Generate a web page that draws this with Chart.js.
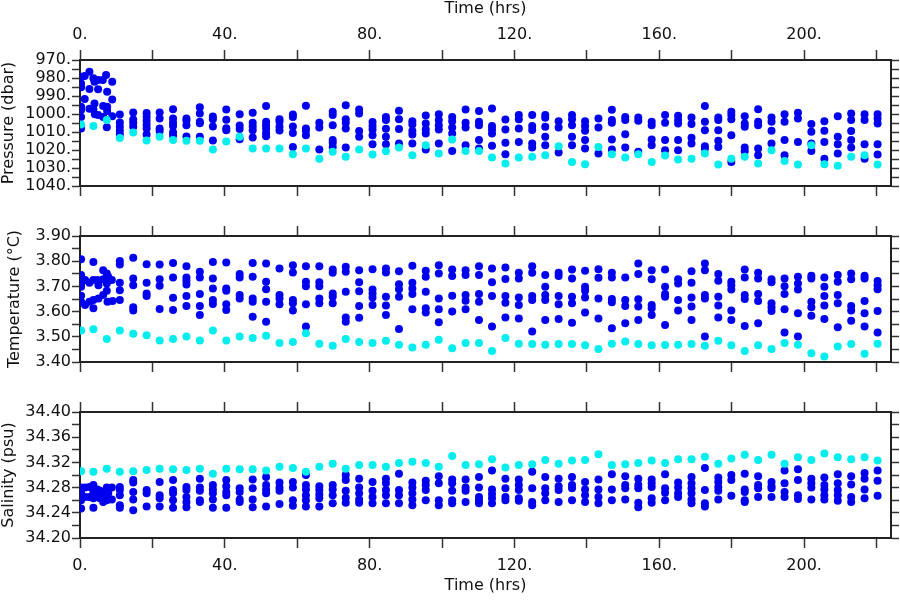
<!DOCTYPE html>
<html>
<head>
<meta charset="utf-8">
<title>CTD casts</title>
<script src="https://cdn.jsdelivr.net/npm/chart.js@4.4.1/dist/chart.umd.min.js"></script>
<style>
  body { margin: 0; background: #fff; }
  #wrap { position: relative; width: 900px; height: 600px; background: #fff; }
  canvas { position: absolute; left: 0; }
</style>
</head>
<body>
<div id="wrap">
  <canvas id="presChart" width="900" height="200" style="top:0px"></canvas>
  <canvas id="tempChart" width="900" height="180" style="top:200px"></canvas>
  <canvas id="salChart" width="900" height="220" style="top:380px"></canvas>
</div>
<script>
//! Cast times (hrs)
const castHours = [11.0, 14.7, 18.4, 22.0, 25.7, 29.4, 33.1, 36.7, 40.4, 44.1, 47.7, 51.4, 55.1, 58.8,
  62.4, 66.1, 69.8, 73.4, 77.1, 80.8, 84.5, 88.1, 91.8, 95.5, 99.1, 102.8, 106.5, 110.2, 113.8, 117.5,
  121.2, 124.9, 128.5, 132.2, 135.9, 139.5, 143.2, 146.9, 150.6, 154.2, 157.9, 161.6, 165.2, 168.9,
  172.6, 176.3, 179.9, 183.6, 187.3, 191.0, 194.6, 198.3, 202.0, 205.6, 209.3, 213.0, 216.7, 220.3];

//! Pressure (dbar), one list per cast; deepest sample separately
const presBlue = [
  [1000.3, 1004.7, 1007.1, 1009.3, 1011.4], [999.1, 1003.0, 1004.9, 1007.1],
  [999.5, 1001.5, 1003.8, 1006.0, 1008.0, 1011.4], [999.1, 1002.5, 1008.0, 1009.5],
  [997.3, 1002.5, 1004.9, 1006.7, 1010.1, 1011.9], [1002.5, 1003.8, 1006.2, 1012.5],
  [996.2, 999.7, 1004.3, 1005.1, 1012.7], [1001.4, 1002.9, 1006.9, 1014.7],
  [997.5, 1003.2, 1007.9, 1009.0], [1000.1, 1006.4, 1008.4, 1014.0],
  [999.3, 1004.9, 1006.9, 1009.0, 1013.1], [995.6, 1004.3, 1006.2, 1008.2, 1010.6, 1012.3],
  [1002.9, 1004.1, 1007.1, 1009.2], [1000.3, 1001.6, 1006.9, 1010.5, 1018.3],
  [995.4, 1008.0, 1009.3, 1011.8], [1004.9, 1007.5, 1019.7],
  [998.8, 1000.6, 1006.2, 1014.5, 1016.0, 1018.3], [995.1, 1002.9, 1004.9, 1008.0, 1018.6],
  [997.5, 999.7, 1009.5, 1012.7], [1004.5, 1006.7, 1008.6, 1011.8, 1016.8],
  [1001.6, 1003.4, 1008.2, 1012.7, 1016.8], [998.2, 1002.9, 1008.4, 1016.4],
  [1004.0, 1005.8, 1009.5, 1011.4, 1016.4], [1000.8, 1005.3, 1008.6, 1010.8, 1019.7],
  [1000.1, 1003.4, 1006.2, 1008.6, 1016.4], [1001.6, 1004.0, 1007.5, 1010.8, 1020.5],
  [997.5, 1004.9, 1007.5, 1017.3], [998.4, 1004.3, 1006.2, 1014.5, 1019.2],
  [996.9, 1006.6, 1008.6, 1010.8, 1017.7], [1003.0, 1008.6, 1016.0, 1022.3],
  [1000.6, 1002.9, 1008.0, 1015.5], [1000.6, 1006.7, 1008.9, 1016.4, 1018.6],
  [1000.6, 1002.1, 1007.1, 1012.7, 1017.3], [1004.0, 1007.5, 1021.4],
  [1000.6, 1002.9, 1006.2, 1012.7, 1017.3], [1004.0, 1006.7, 1009.3, 1014.5, 1019.2],
  [1002.5, 1007.5, 1022.0], [997.7, 1003.4, 1004.9, 1014.2, 1019.7],
  [1001.6, 1003.4, 1011.2, 1018.6], [1001.9, 1003.8, 1021.0],
  [1004.3, 1006.2, 1014.2, 1017.3], [1000.6, 1004.9, 1014.5, 1020.1],
  [1001.0, 1003.4, 1005.3, 1014.5, 1020.1], [1001.9, 1005.6, 1013.2, 1016.4],
  [995.6, 1004.3, 1009.0, 1017.9, 1019.2], [1001.9, 1003.4, 1009.0, 1014.9, 1018.3],
  [998.8, 1000.6, 1002.9, 1011.8, 1026.6], [1001.2, 1005.3, 1007.1, 1018.6, 1020.7],
  [997.3, 1004.3, 1006.2, 1019.2, 1022.9], [1001.9, 1004.3, 1009.3, 1016.4],
  [1000.1, 1004.3, 1014.5, 1022.9], [999.3, 1002.5, 1015.5],
  [1005.6, 1009.9, 1016.4, 1020.5], [1004.0, 1009.3, 1015.5, 1024.8],
  [1001.2, 1012.7, 1016.8, 1022.0], [999.7, 1003.4, 1009.5, 1014.5, 1018.6],
  [1000.1, 1003.4, 1016.8, 1024.8], [1000.1, 1002.5, 1005.3, 1016.8, 1022.5]
];
const presCyan = [1013.4, 1010.3, 1014.7, 1012.7, 1014.4, 1014.9, 1014.9, 1019.7, 1015.3, 1012.7,
  1019.2, 1019.2, 1019.2, 1022.3, 1019.2, 1024.8, 1021.0, 1023.8, 1019.7, 1022.5, 1020.7, 1018.6,
  1022.9, 1017.3, 1022.0, 1014.2, 1020.5, 1020.5, 1024.2, 1027.5, 1024.2, 1023.8, 1022.9, 1017.9,
  1026.6, 1027.9, 1018.3, 1022.3, 1024.2, 1022.3, 1026.6, 1023.1, 1025.3, 1024.8, 1022.0, 1028.1,
  1024.8, 1023.8, 1027.5, 1020.1, 1026.1, 1028.1, 1017.3, 1027.9, 1028.8, 1023.8, 1022.9, 1028.1];

//! Temperature (degC)
const tempBlue = [
  [3.801, 3.787, 3.714, 3.685, 3.646], [3.814, 3.731, 3.705, 3.617, 3.604],
  [3.788, 3.714, 3.672, 3.662], [3.787, 3.728, 3.703, 3.610],
  [3.793, 3.735, 3.655, 3.606], [3.780, 3.735, 3.722, 3.708, 3.662, 3.622],
  [3.758, 3.735, 3.670, 3.622, 3.587], [3.797, 3.731, 3.692, 3.646, 3.630],
  [3.795, 3.692, 3.683, 3.629, 3.606], [3.749, 3.735, 3.666, 3.652],
  [3.793, 3.738, 3.652, 3.639, 3.580], [3.791, 3.718, 3.689, 3.639, 3.560],
  [3.771, 3.666, 3.652, 3.629], [3.784, 3.755, 3.646, 3.633, 3.604],
  [3.780, 3.718, 3.701, 3.629, 3.541], [3.780, 3.716, 3.701, 3.652, 3.633],
  [3.767, 3.754, 3.672, 3.659, 3.633], [3.778, 3.758, 3.679, 3.577, 3.560],
  [3.764, 3.716, 3.681, 3.622, 3.576], [3.768, 3.688, 3.672, 3.656, 3.626],
  [3.771, 3.755, 3.659, 3.624, 3.587], [3.760, 3.709, 3.689, 3.659, 3.531],
  [3.782, 3.714, 3.692, 3.670, 3.609], [3.762, 3.738, 3.679, 3.613, 3.596],
  [3.784, 3.751, 3.652, 3.609, 3.558], [3.767, 3.741, 3.663, 3.600],
  [3.764, 3.745, 3.666, 3.643, 3.609], [3.780, 3.745, 3.670, 3.639, 3.567],
  [3.771, 3.716, 3.662, 3.541], [3.775, 3.729, 3.662, 3.635, 3.577],
  [3.754, 3.731, 3.656, 3.626, 3.573], [3.780, 3.754, 3.662, 3.646, 3.521],
  [3.745, 3.699, 3.666, 3.646, 3.567], [3.754, 3.741, 3.662, 3.629, 3.571],
  [3.767, 3.731, 3.659, 3.633, 3.556], [3.762, 3.699, 3.683, 3.656, 3.596],
  [3.768, 3.734, 3.652, 3.573], [3.754, 3.735, 3.650, 3.637, 3.534],
  [3.735, 3.646, 3.622, 3.554], [3.791, 3.749, 3.649, 3.620, 3.567],
  [3.764, 3.728, 3.626, 3.613, 3.587], [3.767, 3.699, 3.670, 3.659, 3.547],
  [3.728, 3.712, 3.646, 3.604], [3.760, 3.714, 3.656, 3.620, 3.567],
  [3.791, 3.764, 3.666, 3.652, 3.501], [3.749, 3.722, 3.659, 3.624, 3.577],
  [3.718, 3.705, 3.688, 3.604, 3.567], [3.767, 3.735, 3.666, 3.650, 3.543],
  [3.754, 3.731, 3.670, 3.642, 3.554], [3.728, 3.716, 3.633, 3.617, 3.602],
  [3.731, 3.701, 3.670, 3.609, 3.517], [3.738, 3.712, 3.688, 3.593, 3.501],
  [3.742, 3.731, 3.639, 3.617, 3.584], [3.735, 3.699, 3.662, 3.624, 3.571],
  [3.745, 3.718, 3.666, 3.633, 3.538], [3.751, 3.728, 3.622, 3.604, 3.564],
  [3.742, 3.731, 3.642, 3.593, 3.541], [3.721, 3.705, 3.689, 3.602, 3.517]
];
const tempCyan = [3.525, 3.512, 3.506, 3.485, 3.491, 3.501, 3.485, 3.525, 3.485, 3.501, 3.495,
  3.504, 3.475, 3.479, 3.514, 3.472, 3.464, 3.491, 3.479, 3.475, 3.484, 3.468, 3.458, 3.468, 3.488,
  3.455, 3.475, 3.475, 3.444, 3.495, 3.472, 3.471, 3.468, 3.471, 3.471, 3.466, 3.452, 3.472, 3.481,
  3.471, 3.466, 3.467, 3.468, 3.471, 3.464, 3.484, 3.466, 3.444, 3.466, 3.452, 3.475, 3.468, 3.435,
  3.422, 3.462, 3.471, 3.433, 3.472];

//! Salinity (psu)
const salBlue = [
  [34.281, 34.276, 34.268, 34.252, 34.248], [34.292, 34.288, 34.273, 34.261, 34.244],
  [34.276, 34.271, 34.250], [34.289, 34.268, 34.263, 34.250],
  [34.292, 34.276, 34.271, 34.260, 34.248], [34.281, 34.276, 34.265, 34.257, 34.249],
  [34.294, 34.280, 34.275, 34.260, 34.257], [34.284, 34.277, 34.271, 34.261, 34.248],
  [34.292, 34.282, 34.273, 34.268, 34.248], [34.279, 34.273, 34.261, 34.257],
  [34.293, 34.279, 34.261, 34.249], [34.297, 34.284, 34.277, 34.271, 34.250],
  [34.288, 34.280, 34.275, 34.254], [34.289, 34.280, 34.260, 34.251],
  [34.300, 34.284, 34.277, 34.268, 34.260, 34.250], [34.282, 34.276, 34.269, 34.263, 34.250],
  [34.284, 34.277, 34.268, 34.255], [34.300, 34.292, 34.275, 34.264, 34.256],
  [34.294, 34.280, 34.271, 34.261, 34.256], [34.289, 34.275, 34.265, 34.255],
  [34.294, 34.287, 34.276, 34.268, 34.255], [34.302, 34.276, 34.268, 34.255],
  [34.288, 34.280, 34.271, 34.261, 34.252], [34.291, 34.284, 34.276, 34.260],
  [34.298, 34.287, 34.260, 34.252], [34.293, 34.287, 34.275, 34.260, 34.255],
  [34.293, 34.280, 34.275, 34.257], [34.297, 34.280, 34.265, 34.260, 34.255],
  [34.307, 34.277, 34.270, 34.263, 34.255], [34.294, 34.279, 34.265, 34.260],
  [34.293, 34.284, 34.276, 34.263, 34.259], [34.305, 34.279, 34.257, 34.252],
  [34.297, 34.279, 34.271, 34.260], [34.294, 34.282, 34.276, 34.257],
  [34.297, 34.284, 34.279, 34.260], [34.289, 34.277, 34.268, 34.257],
  [34.293, 34.277, 34.265, 34.255], [34.301, 34.277, 34.260],
  [34.298, 34.284, 34.279, 34.261], [34.294, 34.284, 34.279, 34.256, 34.249],
  [34.293, 34.287, 34.281, 34.263, 34.256], [34.301, 34.279, 34.272, 34.260],
  [34.288, 34.280, 34.271, 34.265], [34.297, 34.287, 34.279, 34.271, 34.261, 34.255],
  [34.311, 34.276, 34.255, 34.250], [34.296, 34.289, 34.281, 34.275, 34.261],
  [34.300, 34.292, 34.267], [34.302, 34.277, 34.273, 34.260, 34.257],
  [34.298, 34.284, 34.279, 34.265], [34.289, 34.282, 34.279, 34.265],
  [34.307, 34.287, 34.273, 34.265], [34.309, 34.292, 34.268, 34.262],
  [34.294, 34.287, 34.280, 34.261], [34.296, 34.284, 34.277, 34.268, 34.261],
  [34.301, 34.287, 34.276, 34.268, 34.259], [34.298, 34.285, 34.265, 34.257],
  [34.303, 34.294, 34.277, 34.263], [34.307, 34.291, 34.267]
];
const salCyan = [34.305, 34.306, 34.308, 34.310, 34.309, 34.308, 34.310, 34.302, 34.310, 34.309,
  34.309, 34.307, 34.313, 34.311, 34.305, 34.313, 34.318, 34.310, 34.316, 34.316, 34.313, 34.319,
  34.321, 34.319, 34.313, 34.330, 34.316, 34.317, 34.325, 34.312, 34.316, 34.317, 34.324, 34.318,
  34.323, 34.324, 34.333, 34.316, 34.317, 34.319, 34.323, 34.319, 34.325, 34.325, 34.329, 34.318,
  34.326, 34.332, 34.324, 34.332, 34.318, 34.328, 34.324, 34.334, 34.328, 34.325, 34.328, 34.323];

//! First 9 hours: denser sampling, [hours, value]
const burstPres = [[0.3, 979.3], [0.3, 983.0], [0.3, 985.2], [0.3, 996.0], [0.3, 997.8], [0.3, 1001.6],
  [0.3, 1008.0], [1.3, 978.9], [1.3, 991.7], [2.6, 976.5], [2.6, 986.1], [2.6, 997.1], [3.7, 980.2],
  [4.0, 982.1], [4.0, 994.1], [3.7, 997.3], [4.1, 1000.1], [5.0, 981.1], [5.0, 986.3], [5.0, 1000.6],
  [6.3, 981.1], [6.4, 995.6], [6.4, 1001.6], [7.2, 978.4], [7.5, 987.7], [7.5, 996.0], [7.5, 998.4],
  [7.4, 1007.3], [8.9, 982.1], [8.9, 991.9], [8.9, 1001.2]];
const burstPresCyan = [[0.3, 1005.8], [3.7, 1006.7], [7.4, 1003.4]];
const burstTemp = [[0.3, 3.808], [0.3, 3.745], [0.3, 3.712], [0.3, 3.699], [0.3, 3.663], [0.3, 3.639],
  [1.4, 3.725], [1.4, 3.626], [2.6, 3.714], [2.6, 3.639], [3.7, 3.797], [3.7, 3.725], [3.7, 3.646],
  [3.7, 3.613], [4.8, 3.725], [5.1, 3.705], [5.1, 3.652], [6.4, 3.764], [6.4, 3.728], [6.4, 3.666],
  [7.4, 3.751], [7.4, 3.712], [7.4, 3.683], [7.6, 3.639], [8.8, 3.725], [9.0, 3.642], [7.8, 3.738]];
const burstTempCyan = [[0.3, 3.525], [3.7, 3.530], [7.4, 3.491]];
const burstSal = [[0.3, 34.280], [0.3, 34.271], [0.3, 34.260], [0.3, 34.247], [1.4, 34.280],
  [1.4, 34.265], [2.6, 34.281], [2.6, 34.265], [3.7, 34.284], [3.7, 34.273], [3.7, 34.263],
  [3.7, 34.248], [4.8, 34.277], [4.8, 34.266], [5.5, 34.275], [5.5, 34.263], [6.4, 34.272],
  [6.4, 34.264], [6.4, 34.257], [7.4, 34.280], [7.4, 34.268], [7.4, 34.260], [8.8, 34.280],
  [8.8, 34.261], [7.8, 34.271]];
const burstSalCyan = [[0.3, 34.306], [3.7, 34.305], [7.4, 34.310]];

//! Ticks and labels
const timeTicks = [0, 20, 40, 60, 80, 100, 120, 140, 160, 180, 200, 220];
const timeLabels = ["0.", "", "40.", "", "80.", "", "120.", "", "160.", "", "200.", ""];
const presTicks = [970, 975, 980, 985, 990, 995, 1000, 1005, 1010, 1015, 1020, 1025, 1030, 1035, 1040];
const presLabels = ["970.", "", "980.", "", "990.", "", "1000.", "", "1010.", "", "1020.", "", "1030.", "", "1040."];
const tempTicks = [3.40, 3.45, 3.50, 3.55, 3.60, 3.65, 3.70, 3.75, 3.80, 3.85, 3.90];
const tempLabels = ["3.40", "", "3.50", "", "3.60", "", "3.70", "", "3.80", "", "3.90"];
const salTicks = [34.20, 34.22, 34.24, 34.26, 34.28, 34.30, 34.32, 34.34, 34.36, 34.38, 34.40];
const salLabels = ["34.20", "", "34.24", "", "34.28", "", "34.32", "", "34.36", "", "34.40"];

const BLUE = "rgb(0,0,238)";
const CYAN = "rgb(0,238,238)";
const FRAME = "#222";
const TEXT = "#111";
const FONT = "'DejaVu Sans', sans-serif";
const DOT = 4;

Chart.defaults.font.family = FONT;
Chart.defaults.font.size = 16;
Chart.defaults.color = TEXT;

function castPoints(lists) {
    const pts = [];
    lists.forEach((vals, i) => {
        vals.forEach(v => pts.push({ x: castHours[i], y: v }));
    });
    return pts;
}

function pairPoints(pairs) {
    return pairs.map(p => ({ x: p[0], y: p[1] }));
}

function xAxis(position, height, showLabels, labelPad, titlePad) {
    return {
        type: "linear",
        position: position,
        min: 0,
        max: 224,
        afterBuildTicks: s => { s.ticks = timeTicks.map(v => ({ value: v })); },
        afterFit: s => { s.height = height; },
        ticks: {
            display: showLabels,
            autoSkip: false,
            maxRotation: 0,
            padding: labelPad,
            callback: (v, i) => timeLabels[i]
        },
        grid: { drawOnChartArea: false, tickLength: 10, tickColor: "#333", tickWidth: 1.5 },
        border: { color: FRAME, width: 2 },
        title: {
            display: showLabels,
            text: "Time (hrs)",
            font: { size: 16, lineHeight: 1 },
            padding: titlePad
        }
    };
}

function makePanel(id, cfg) {
    const ctx = document.getElementById(id).getContext("2d");
    const cyanPts = castHours.map((t, i) => ({ x: t, y: cfg.cyan[i] })).concat(pairPoints(cfg.burstCyan));
    const bluePts = castPoints(cfg.blue).concat(pairPoints(cfg.burst));

    return new Chart(ctx, {
        type: "scatter",
        data: {
            datasets: [
                { data: cyanPts, backgroundColor: CYAN, pointRadius: DOT, pointBorderWidth: 0, pointHoverRadius: DOT },
                { data: bluePts, backgroundColor: BLUE, pointRadius: DOT, pointBorderWidth: 0, pointHoverRadius: DOT }
            ]
        },
        options: {
            responsive: false,
            animation: false,
            devicePixelRatio: 1,
            layout: { padding: 0 },
            plugins: { legend: { display: false }, tooltip: { enabled: false } },
            scales: {
                x: xAxis("bottom", cfg.bottomH, cfg.bottomLabels, 8, { top: 0, bottom: 6 }),
                xTop: xAxis("top", cfg.topH, cfg.topLabels, 6, { top: 1, bottom: 0 }),
                y: {
                    type: "linear",
                    position: "left",
                    min: cfg.min,
                    max: cfg.max,
                    reverse: !!cfg.reverse,
                    afterBuildTicks: s => { s.ticks = cfg.ticks.map(v => ({ value: v })); },
                    afterFit: s => { s.width = 80; },
                    ticks: { autoSkip: false, padding: 1, callback: (v, i) => cfg.labels[i] },
                    grid: { drawOnChartArea: false, tickLength: 8, tickColor: "#333", tickWidth: 1.5 },
                    border: { color: FRAME, width: 2 },
                    title: {
                        display: true,
                        text: cfg.title,
                        font: { size: 16, lineHeight: 1 },
                        padding: { top: cfg.titlePad, bottom: 0 }
                    }
                },
                yRight: {
                    type: "linear",
                    position: "right",
                    min: cfg.min,
                    max: cfg.max,
                    reverse: !!cfg.reverse,
                    afterBuildTicks: s => { s.ticks = cfg.ticks.map(v => ({ value: v })); },
                    afterFit: s => { s.width = 9; },
                    ticks: { display: false },
                    grid: { drawOnChartArea: false, tickLength: 8, tickColor: "#333", tickWidth: 1.5 },
                    border: { color: FRAME, width: 2 }
                }
            }
        }
    });
}

makePanel("presChart", {
    blue: presBlue, cyan: presCyan, burst: burstPres, burstCyan: burstPresCyan,
    min: 970, max: 1040, reverse: true, ticks: presTicks, labels: presLabels,
    title: "Pressure (dbar)", titlePad: 1,
    topH: 60, topLabels: true, bottomH: 14, bottomLabels: false
});

makePanel("tempChart", {
    blue: tempBlue, cyan: tempCyan, burst: burstTemp, burstCyan: burstTempCyan,
    min: 3.40, max: 3.90, ticks: tempTicks, labels: tempLabels,
    title: "Temperature (°C)", titlePad: 7,
    topH: 36, topLabels: false, bottomH: 18, bottomLabels: false
});

makePanel("salChart", {
    blue: salBlue, cyan: salCyan, burst: burstSal, burstCyan: burstSalCyan,
    min: 34.20, max: 34.40, ticks: salTicks, labels: salLabels,
    title: "Salinity (psu)", titlePad: 1,
    topH: 32, topLabels: false, bottomH: 62, bottomLabels: true
});
</script>
</body>
</html>
